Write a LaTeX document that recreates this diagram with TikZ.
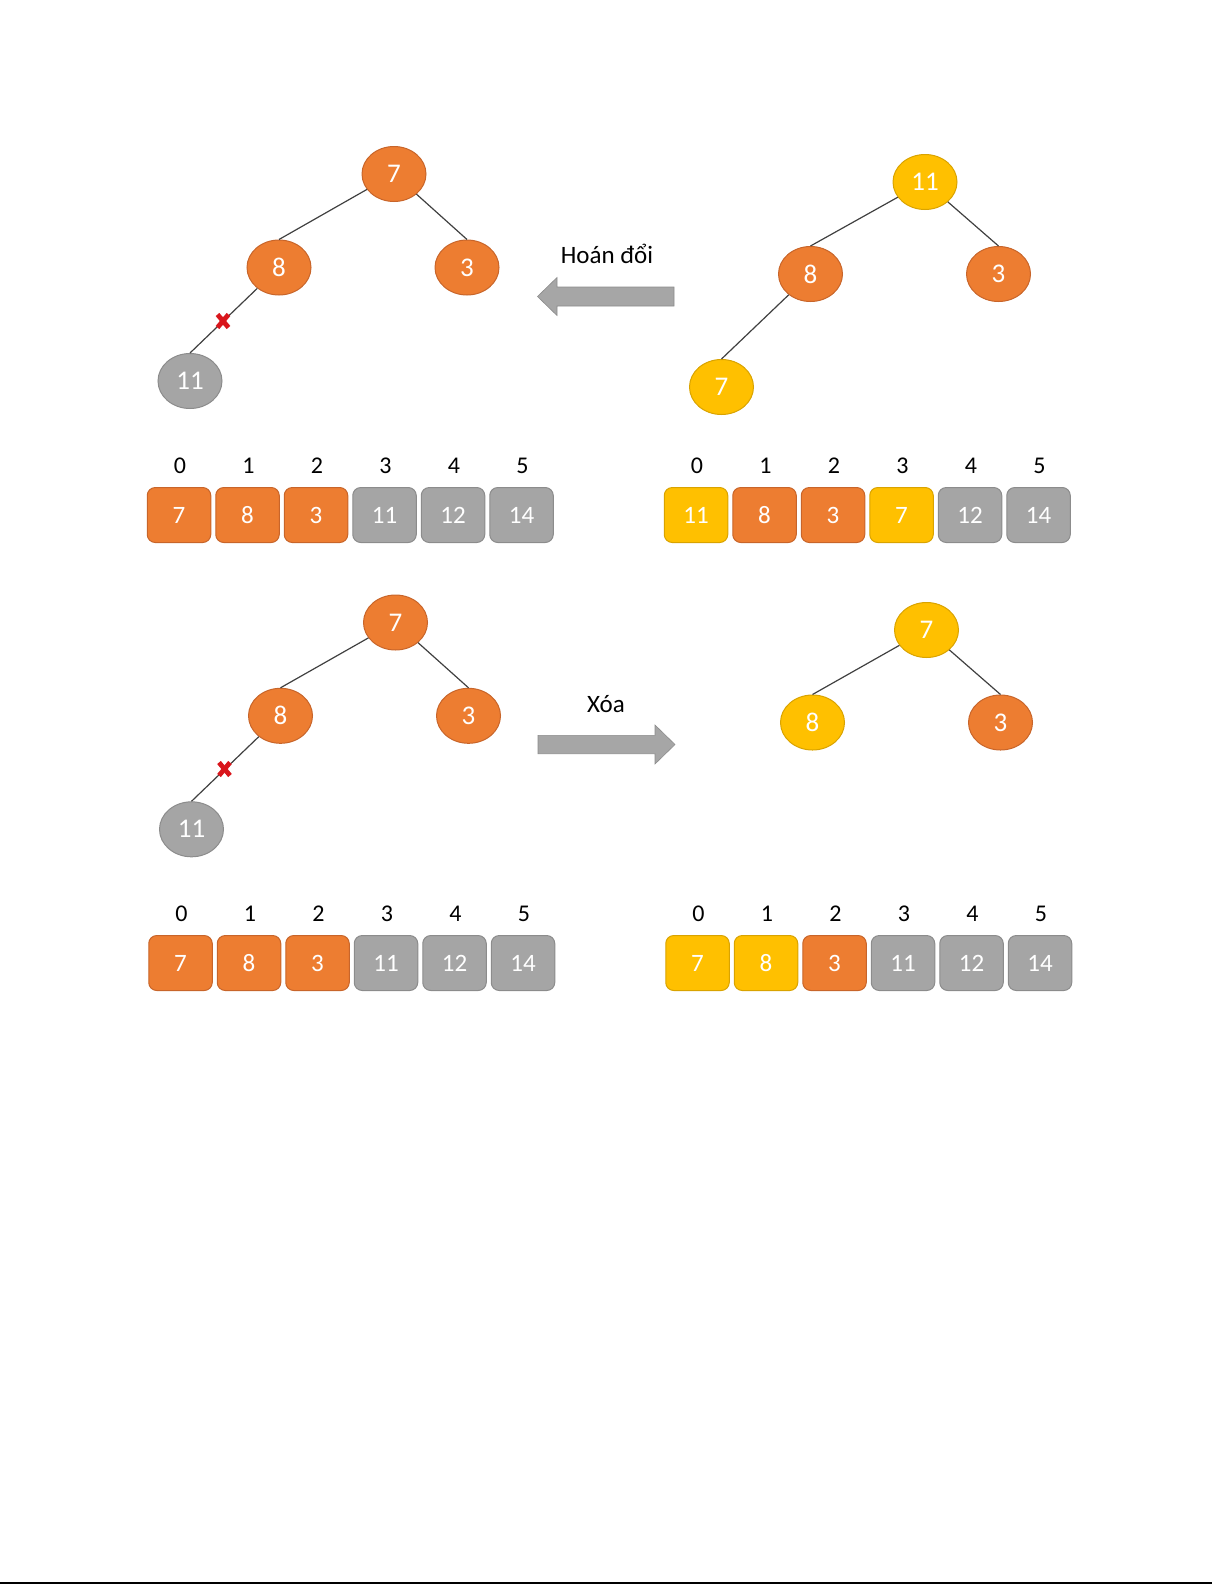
\documentclass[tikz,border=0pt]{standalone}
\usepackage{fontspec}
\setmainfont{Carlito}
\usetikzlibrary{shapes.geometric}
\definecolor{orng}{HTML}{ED7D31}
\definecolor{orngD}{HTML}{C8652A}
\definecolor{yllw}{HTML}{FFC000}
\definecolor{yllwD}{HTML}{D9A300}
\definecolor{gry}{HTML}{A5A5A5}
\definecolor{gryD}{HTML}{8C8C8C}
\definecolor{arrowgray}{HTML}{A6A6A6}
\definecolor{xred}{HTML}{D9161C}
\tikzset{
  tnode/.style={ellipse, minimum width=32pt, minimum height=27.5pt, inner sep=0pt,
    text=white, font=\fontsize{13.5}{15}\selectfont, line width=0.5pt},
  onode/.style={tnode, fill=orng, draw=orngD},
  ynode/.style={tnode, fill=yllw, draw=yllwD},
  gnode/.style={tnode, fill=gry, draw=gryD},
  cell/.style={rectangle, rounded corners=4pt, minimum width=31.75pt, minimum height=27.5pt,
    inner sep=0pt, text=white, font=\fontsize{12.5}{14}\selectfont, line width=0.5pt},
  idx/.style={font=\fontsize{12}{14}\selectfont, text=black, inner sep=0pt},
  lbl/.style={font=\fontsize{12.5}{15}\selectfont, text=black, inner sep=0pt},
  treeedge/.style={draw=black!75, line width=0.6pt},
  xmark/.style={draw=xred, line width=2.4pt},
  bigarrow/.style={fill=arrowgray, draw=gryD, line width=0.3pt},
}
\begin{document}
\begin{tikzpicture}[x=0.5pt,y=-0.5pt]
\useasboundingbox (0,0) rectangle (1225,1585);

% ---------- top-left tree ----------
\node[onode] (a7) at (394,174) {7};
\node[onode] (a8) at (279,267.5) {8};
\node[onode] (a3) at (467,267.5) {3};
\node[gnode] (a11) at (190,381) {11};
\draw[treeedge] (a7) -- (a8.north);
\draw[treeedge] (a7) -- (a3.north);
\draw[treeedge] (a8) -- (a11.north);
\coordinate (ax) at (223,321);
\draw[xmark] ([shift={(-5.5,-6.5)}]ax) -- ([shift={(5.5,6.5)}]ax);
\draw[xmark] ([shift={(5.5,-6.5)}]ax) -- ([shift={(-5.5,6.5)}]ax);

% ---------- top-right tree ----------
\node[ynode] (b11) at (925,182) {11};
\node[onode] (b8) at (810.5,274) {8};
\node[onode] (b3) at (998.5,274) {3};
\node[ynode] (b7) at (721.5,387) {7};
\draw[treeedge] (b11) -- (b8.north);
\draw[treeedge] (b11) -- (b3.north);
\draw[treeedge] (b8) -- (b7.north);

% ---------- top arrow ----------
\node[lbl, anchor=base] (lab1) at (607,263) {Hoán đổi};
\draw[bigarrow] (537.5,296.5) -- (557,277.5) -- (557,287) -- (674,287) -- (674,306)
  -- (557,306) -- (557,315.5) -- cycle;

% ---------- top arrays ----------
\foreach \i/\v/\c in {0/7/orng,1/8/orng,2/3/orng,3/11/gry,4/12/gry,5/14/gry} {
  \node[cell, fill=\c, draw=\c D] (ta\i) at ({179+68.5*\i},515) {\v};
  \node[idx] (tai\i) at ({180+68.5*\i},466) {\i};
}
\foreach \i/\v/\c in {0/11/yllw,1/8/orng,2/3/orng,3/7/yllw,4/12/gry,5/14/gry} {
  \node[cell, fill=\c, draw=\c D] (tb\i) at ({696+68.5*\i},515) {\v};
  \node[idx] (tbi\i) at ({697+68.5*\i},466) {\i};
}

% ---------- bottom-left tree ----------
\node[onode] (c7) at (395.5,622.5) {7};
\node[onode] (c8) at (280.5,715.8) {8};
\node[onode] (c3) at (468.5,715.8) {3};
\node[gnode] (c11) at (191.5,829.3) {11};
\draw[treeedge] (c7) -- (c8.north);
\draw[treeedge] (c7) -- (c3.north);
\draw[treeedge] (c8) -- (c11.north);
\coordinate (cx) at (224.5,769);
\draw[xmark] ([shift={(-5.5,-6.5)}]cx) -- ([shift={(5.5,6.5)}]cx);
\draw[xmark] ([shift={(5.5,-6.5)}]cx) -- ([shift={(-5.5,6.5)}]cx);

% ---------- bottom-right tree ----------
\node[ynode] (d7) at (926.5,630) {7};
\node[ynode] (d8) at (812.5,722.5) {8};
\node[onode] (d3) at (1000.5,722.5) {3};
\draw[treeedge] (d7) -- (d8.north);
\draw[treeedge] (d7) -- (d3.north);

% ---------- bottom arrow ----------
\node[lbl, anchor=base] (lab2) at (606,712) {Xóa};
\draw[bigarrow] (675,744.5) -- (655,725) -- (655,735.3) -- (538,735.3) -- (538,753.7)
  -- (655,753.7) -- (655,764) -- cycle;

% ---------- bottom arrays ----------
\foreach \i/\v/\c in {0/7/orng,1/8/orng,2/3/orng,3/11/gry,4/12/gry,5/14/gry} {
  \node[cell, fill=\c, draw=\c D] (ca\i) at ({180.5+68.5*\i},963) {\v};
  \node[idx] (cai\i) at ({181.5+68.5*\i},914) {\i};
}
\foreach \i/\v/\c in {0/7/yllw,1/8/yllw,2/3/orng,3/11/gry,4/12/gry,5/14/gry} {
  \node[cell, fill=\c, draw=\c D] (da\i) at ({697.5+68.5*\i},963) {\v};
  \node[idx] (dai\i) at ({698.5+68.5*\i},914) {\i};
}

% ---------- bottom rule ----------
\coordinate (r1) at (0,1583);
\coordinate (r2) at (1212,1583);
\draw[line width=1pt] (r1) -- (r2);
\end{tikzpicture}
\end{document}
